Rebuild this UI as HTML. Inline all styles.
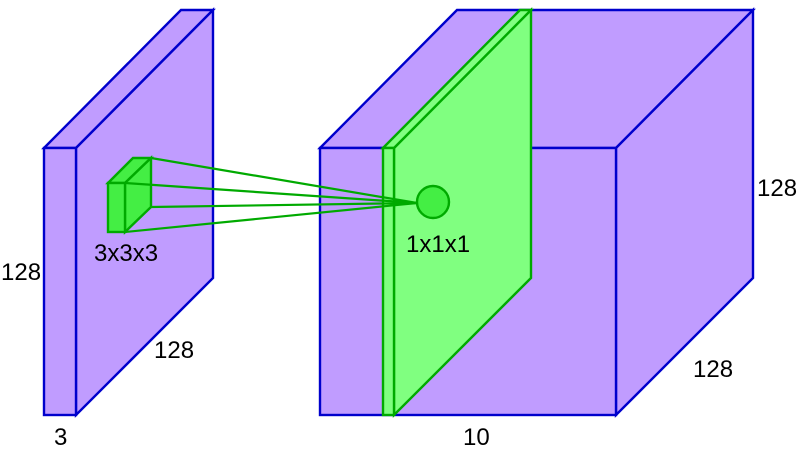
<!DOCTYPE html>
<html><head><meta charset="utf-8"><style>
html,body{margin:0;padding:0;background:#fff;}
svg{display:block;}
</style></head><body>
<svg width="800" height="461" viewBox="0 0 800 461">
<g stroke="#0000cc" stroke-width="2.4" fill="#c09cff">
  <polygon points="44,148 181,10 213,10 76,148"/>
  <polygon points="76,148 213,10 213,278 76,415"/>
  <rect x="44" y="148" width="32" height="267"/>
</g>
<g stroke="#0000cc" stroke-width="2.4" fill="#c09cff">
  <polygon points="320,148 457,10 753,10 616,148"/>
  <polygon points="616,148 753,10 753,278 616,415"/>
  <rect x="320" y="148" width="296" height="267"/>
</g>
<g stroke="#00aa00" stroke-width="2.4" fill="#80ff80">
  <polygon points="394,148 531,10 531,278 394,415"/>
  <polygon points="383,148 520,10 531,10 394,148"/>
  <rect x="383" y="148" width="11" height="267"/>
</g>
<g stroke="#00aa00" stroke-width="2.4" fill="#44ee44">
  <polygon points="108,183 133,158 151,158 125,183"/>
  <polygon points="125,183 151,158 151,207 125,232"/>
  <rect x="108" y="183" width="17" height="49"/>
</g>
<g stroke="#00aa00" stroke-width="2.2">
  <line x1="151" y1="158" x2="417" y2="203"/>
  <line x1="125" y1="183" x2="417" y2="203"/>
  <line x1="151" y1="207" x2="417" y2="203"/>
  <line x1="125" y1="232" x2="417" y2="203"/>
</g>
<circle cx="433" cy="202" r="16" fill="#44ee44" stroke="#00aa00" stroke-width="2.4"/>
<g font-family="Liberation Sans, sans-serif" font-size="24" fill="#000">
<text x="1" y="280">128</text>
<text x="94" y="261">3x3x3</text>
<text x="154" y="358">128</text>
<text x="54" y="445">3</text>
<text x="463" y="445">10</text>
<text x="406" y="252">1x1x1</text>
<text x="757" y="196">128</text>
<text x="693" y="377">128</text>
</g>
</svg>
</body></html>
